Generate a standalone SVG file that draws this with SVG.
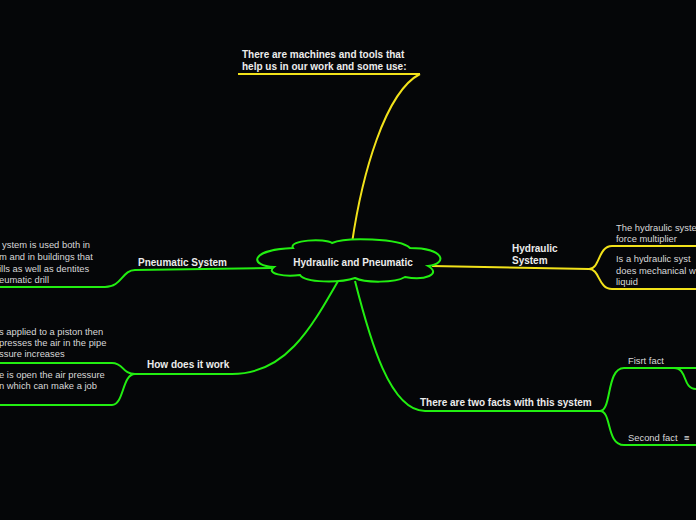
<svg xmlns="http://www.w3.org/2000/svg" width="696" height="520" viewBox="0 0 696 520">
<style>
.b{font-family:"Liberation Sans",Arial,sans-serif;font-weight:bold;font-size:10px;fill:#ececec}
.n{font-family:"Liberation Sans",Arial,sans-serif;font-size:9.4px;fill:#d8d8d8}
.g{fill:none;stroke:#22ee11;stroke-width:2}
.y{fill:none;stroke:#f2e21a;stroke-width:2}
</style>
<rect width="696" height="520" fill="#050608"/>
<g id="connectors">
<path class="y" d="M352 243 C362 175,385 92,420 74 M420 74 L238 74"/>
<path class="g" d="M272 268 L135 270 C122 270,122 287,105 287 L0 287"/>
<path class="g" d="M338 281 C310 330,285 374,232 374 L135 374 C122 374,124 363,112 363 L0 363 M135 374 C122 374,124 405,112 405 L0 405"/>
<path class="y" d="M432 266 L589 269 C600 269,598 246,612 246 L696 246 M589 269 C600 269,598 289,612 289 L696 289"/>
<path class="g" d="M355 281 C370 340,390 411,425 411 L600 411 C612 411,606 368,624 368 L696 368 M674 368 C688 368,682 389,696 389 M600 411 C612 411,606 445,624 445 L696 445"/>
</g>
<g id="center">
<path d="M293 248 C288 240,325 238,332 243 C345 237,400 238,410 248 C445 248,448 264,428 266 C442 274,425 281,405 277 C395 283,365 283,355 278 C340 283,305 283,300 275 C285 277,265 274,274 267 C250 266,248 250,293 248 Z" fill="#050608" stroke="#22ee11" stroke-width="2"/>
<text class="b" x="353" y="266" text-anchor="middle">Hydraulic and Pneumatic</text>
</g>
<g id="top">
<text class="b" x="242" y="58">There are machines and tools that</text>
<text class="b" x="242" y="70">help us in our work and some use:</text>
</g>
<g id="pneumatic">
<text class="b" x="138" y="266">Pneumatic System</text>
<text class="n" x="2" y="248">ystem is used both in</text>
<text class="n" x="-1" y="260">m and in buildings that</text>
<text class="n" x="-1" y="272">ills as well as dentites</text>
<text class="n" x="-1" y="283">eumatic drill</text>
</g>
<g id="how">
<text class="b" x="147" y="368">How does it work</text>
<text class="n" x="-1" y="335">s applied to a piston then</text>
<text class="n" x="-1" y="346">presses the air in the pipe</text>
<text class="n" x="-1" y="357">ssure increases</text>
<text class="n" x="-1" y="378">e is open the air pressure</text>
<text class="n" x="-1" y="389">n which can make a job</text>
</g>
<g id="hydraulic">
<text class="b" x="512" y="252">Hydraulic</text>
<text class="b" x="512" y="264">System</text>
<text class="n" x="616" y="231">The hydraulic syste</text>
<text class="n" x="616" y="242">force multiplier</text>
<text class="n" x="616" y="262">Is a hydraulic syst</text>
<text class="n" x="616" y="274">does mechanical w</text>
<text class="n" x="616" y="285">liquid</text>
</g>
<g id="facts">
<text class="b" x="420" y="406">There are two facts with this system</text>
<text class="n" x="628" y="364">Fisrt fact</text>
<text class="n" x="628" y="441">Second fact</text>
<text class="n" x="684" y="441">≡</text>
</g>
</svg>
